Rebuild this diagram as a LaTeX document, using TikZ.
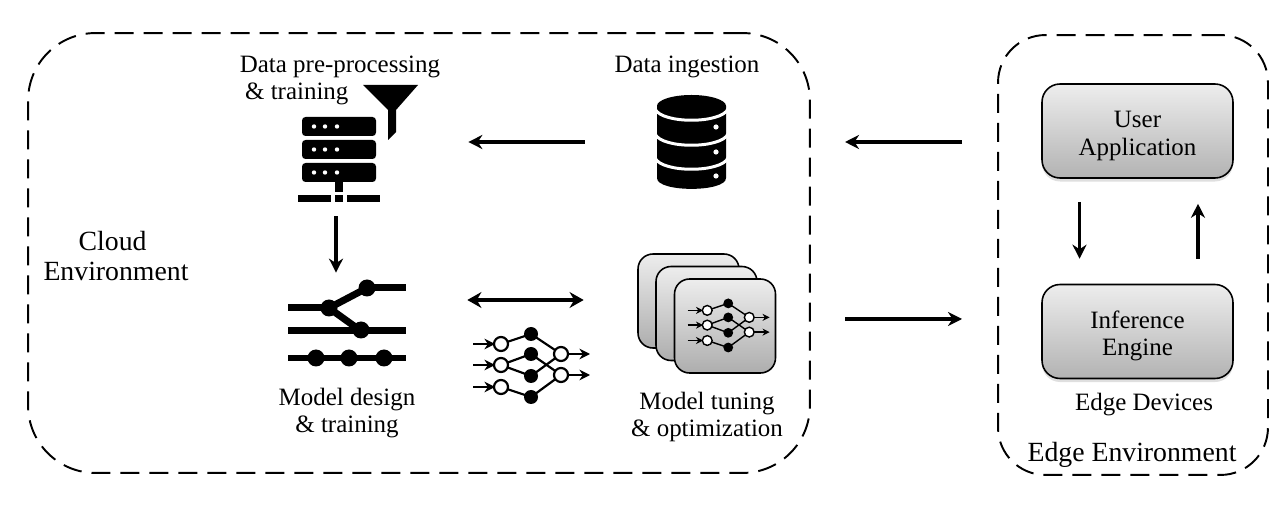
\documentclass[tikz,border=0pt]{standalone}
\usepackage{fontspec}
\setmainfont{Liberation Serif}
\usetikzlibrary{arrows.meta,shadows,calc}
\tikzset{
  label/.style={font=\fontsize{14.2}{15.5}\selectfont, inner sep=0pt},
  biglabel/.style={font=\fontsize{15.8}{17}\selectfont, inner sep=0pt},
  envbox/.style={draw, line width=1.1pt, dash pattern=on 0.38cm off 0.2cm},
  iconbox/.style={inner sep=0pt},
  flow/.style={-{Stealth[length=8pt,width=8pt]}, line width=2pt},
  flowboth/.style={{Stealth[length=8pt,width=9pt]}-{Stealth[length=8pt,width=9pt]}, line width=1.9pt},
  devicebox/.style={draw, line width=0.9pt, rounded corners=0.36cm, minimum width=3.82cm, minimum height=1.88cm,
    top color=black!7, bottom color=black!30, align=center, font=\fontsize{14.2}{15.5}\selectfont,
    drop shadow={shadow xshift=0pt, shadow yshift=-2pt, opacity=0.25}},
  stackcard/.style={draw, line width=0.9pt, rounded corners=0.3cm, minimum width=2.02cm, minimum height=1.88cm,
    top color=black!7, bottom color=black!32},
  netline/.style={line width=1.25pt},
  nettip/.style={-{Stealth[length=6pt,width=6pt]}, line width=1.25pt},
  netpic/.pic={
    \coordinate (i1) at (-30,-21); \coordinate (i2) at (-30,0); \coordinate (i3) at (-30,22);
    \coordinate (b1) at (0,-31); \coordinate (b2) at (0,-11); \coordinate (b3) at (0,11); \coordinate (b4) at (0,32);
    \coordinate (o1) at (30,-11); \coordinate (o2) at (30,10);
    \foreach \a/\b in {i1/b1,i2/b2,i2/b3,i3/b4,b1/o1,b2/o2,b3/o1,b4/o2}
      \draw[netline] (\a) -- (\b);
    \foreach \n in {i1,i2,i3}
      \draw[nettip] ($(\n)+(-28,0)$) -- ($(\n)+(-6,0)$);
    \foreach \n in {o1,o2}
      \draw[nettip] (\n) -- ($(\n)+(29,0)$);
    \foreach \n in {i1,i2,i3,o1,o2}
      \draw[netline, fill=white] (\n) circle (7);
    \foreach \n in {b1,b2,b3,b4}
      \fill (\n) circle (7);
  },
}
\begin{document}
\begin{tikzpicture}[x=0.02cm,y=-0.02cm]
\useasboundingbox (0,0) rectangle (1287,509);

\node[envbox, rounded corners=1.35cm, minimum width=15.64cm, minimum height=8.8cm] (cloud) at (419,253) {};
\node[envbox, rounded corners=0.95cm, minimum width=5.4cm, minimum height=8.8cm] (edge) at (1133,255) {};

\node[biglabel, align=left] (cloudlabel) at (116,256) {\hspace*{20pt}Cloud\\Environment};
\node[label, align=left] (prelabel) at (340,80.5) {Data pre-processing\\\hspace*{3pt}\& training};
\node[label] (ingestlabel) at (687,67) {Data ingestion};
\node[label, align=center] (designlabel) at (347,413) {Model design\\\& training};
\node[label, align=center] (tuninglabel) at (707,417) {Model tuning\\\& optimization};
\node[label] (devicelabel) at (1144,405) {Edge Devices};
\node[biglabel] (edgelabel) at (1132,455) {Edge Environment};

\node[devicebox] (user) at (1137.5,131) {\rule{0pt}{15pt}User\\Application};
\node[devicebox] (engine) at (1137.5,331.5) {\rule{0pt}{15pt}Inference\\Engine};

\node[iconbox, minimum width=5.28cm, minimum height=2.96cm] (server) at (336,142) {};
\node[iconbox, minimum width=4.28cm, minimum height=2cm] (ingest) at (692,142) {};
\node[iconbox, minimum width=5.24cm, minimum height=1.08cm] (design) at (336,300) {};
\node[iconbox, minimum width=4.32cm, minimum height=1cm] (tuning) at (692,300) {};

\coordinate (edgeleft) at (962,142);
\coordinate (cloudright) at (845,142);
\coordinate (cloudout) at (845,319);
\coordinate (edgein) at (962,319);

\draw[flow] (ingest) -- (server);
\draw[flow] (edgeleft) -- (cloudright);
\draw[flow] (server) -- (design);
\draw[flowboth] (design) -- (tuning);
\draw[flow] (cloudout) -- (edgein);
\draw[flow, shorten <=0.46cm, shorten >=0.5cm] ([xshift=-1.16cm]user.south) -- ([xshift=-1.16cm]engine.north);
\draw[flow, shorten <=0.5cm, shorten >=0.5cm] ([xshift=1.21cm]engine.north) -- ([xshift=1.21cm]user.south);

\foreach \y in {117,140,163} {
  \fill[rounded corners=2pt] (302,\y) rectangle (376,\y+19);
  \foreach \x in {314,325,337}
    \fill[white] (\x,\y+9.5) circle (2.2);
}
\fill (335,182) rectangle (343,192);
\fill (298,195) rectangle (331,202);
\fill (335,195) rectangle (343,202);
\fill (347,195) rectangle (380,202);
\fill (363,85) -- (418,85) -- (396,110) -- (396,132) -- (388,140) -- (388,110) -- cycle;

\fill (657,106) -- (657,178) .. controls (657,192.5) and (726,192.5) .. (726,178) -- (726,106) -- cycle;
\fill (691.5,106) ellipse [x radius=34.5, y radius=11];
\foreach \y in {109,134,158}
  \draw[white, line width=1.7pt] (655,\y) .. controls (662,\y+15) and (721,\y+15) .. (728,\y);
\foreach \y in {127,152,176}
  \fill[white] (716,\y) circle (2.6);

\foreach \a/\b/\c/\d in {288/308/329/308,329/308/367/288,367/288/406/288,288/331/361/331,361/331/406/331,329/308/361/331}
  \draw[line width=0.14cm] (\a,\b) -- (\c,\d);
\draw[line width=0.12cm] (288,358) -- (406,358);
\foreach \x/\y in {329/308,367/288,361/330,316/358,349/358,384/358}
  \fill (\x,\y) circle (8.5);

\pic at (531,365) {netpic};

\node[stackcard] (card1) at (688.5,301) {};
\node[stackcard] (card2) at (706.5,313.5) {};
\node[stackcard] (card3) at (725,326) {};
\begin{scope}[x=0.014cm,y=-0.014cm,netline/.style={line width=0.8pt},nettip/.style={-{Stealth[length=4pt,width=4pt]}, line width=0.8pt}]
\pic at (728*1.42857,325*1.42857) {netpic};
\end{scope}
\end{tikzpicture}
\end{document}
